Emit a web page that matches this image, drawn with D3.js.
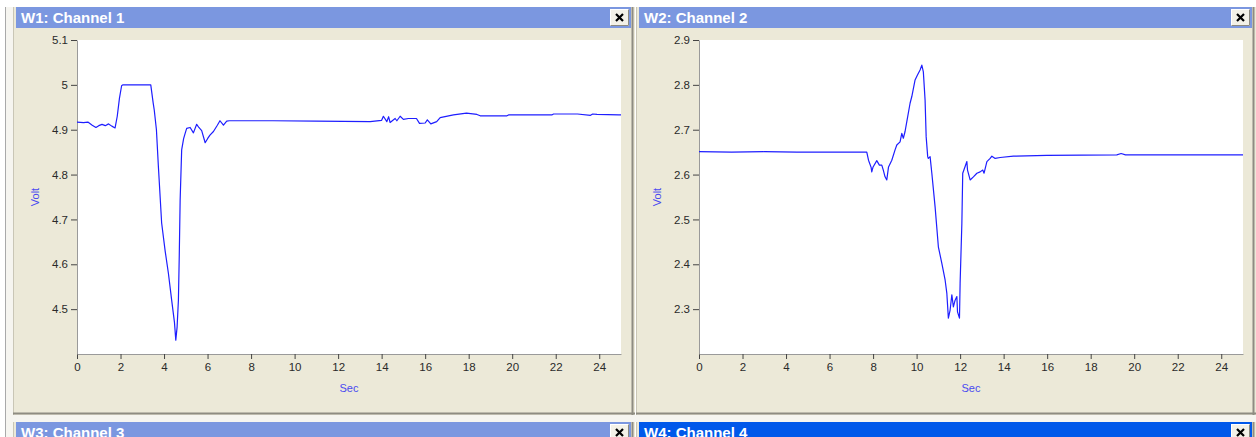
<!DOCTYPE html>
<html>
<head>
<meta charset="utf-8">
<script src="https://cdn.jsdelivr.net/npm/d3@7"></script>
<style>
  html, body { margin: 0; padding: 0; background: #ffffff; }
  svg { display: block; }
  .tick text { font-family: "Liberation Sans", Arial, sans-serif; font-size: 11.5px; fill: #2a2a2a; }
  .tick line { stroke: #444; }
  .domain { stroke: #9a9a9a; }
</style>
</head>
<body>
<svg id="chart" width="1256" height="437"></svg>
<script>
// Channel 1 recording: time (s) and voltage (V)
const ch1Time = [0, 0.3, 0.5, 0.7, 0.87, 1.0, 1.15, 1.3, 1.45, 1.6, 1.75, 1.85, 1.95, 2.05, 2.1, 3.39, 3.5, 3.55, 3.65, 3.74, 3.89, 4.05, 4.2, 4.35, 4.48, 4.54, 4.6, 4.66, 4.7, 4.74, 4.81, 4.9, 4.97, 5.04, 5.2, 5.35, 5.5, 5.6, 5.73, 5.89, 6.0, 6.11, 6.27, 6.45, 6.57, 6.73, 6.88, 7.0, 9.0, 11.0, 13.47, 14.0, 14.08, 14.24, 14.32, 14.39, 14.62, 14.7, 14.85, 15.0, 15.23, 15.6, 15.74, 16.0, 16.1, 16.26, 16.53, 16.69, 17.3, 17.9, 18.38, 18.53, 19.76, 19.83, 21.82, 21.9, 23.0, 23.6, 23.7, 23.9, 24.9, 25.0];
const ch1Volt = [4.917, 4.916, 4.917, 4.91, 4.905, 4.909, 4.912, 4.909, 4.913, 4.908, 4.904, 4.93, 4.97, 4.998, 5.0, 5.0, 4.96, 4.944, 4.9, 4.818, 4.692, 4.63, 4.58, 4.52, 4.47, 4.431, 4.46, 4.52, 4.62, 4.743, 4.855, 4.88, 4.892, 4.903, 4.905, 4.893, 4.912, 4.905, 4.898, 4.871, 4.88, 4.888, 4.896, 4.91, 4.92, 4.91, 4.919, 4.92, 4.92, 4.919, 4.918, 4.921, 4.93, 4.918, 4.929, 4.916, 4.925, 4.92, 4.93, 4.923, 4.925, 4.925, 4.914, 4.915, 4.922, 4.913, 4.918, 4.927, 4.933, 4.937, 4.934, 4.931, 4.931, 4.933, 4.933, 4.935, 4.935, 4.932, 4.935, 4.934, 4.933, 4.933];

// Channel 2 recording: time (s) and voltage (V)
const ch2Time = [0, 1.5, 3.0, 4.5, 6.0, 7.71, 7.79, 7.91, 7.94, 8.0, 8.17, 8.29, 8.4, 8.47, 8.55, 8.63, 8.71, 8.86, 9.01, 9.09, 9.24, 9.32, 9.39, 9.47, 9.55, 9.7, 9.78, 9.93, 10.04, 10.16, 10.24, 10.31, 10.39, 10.44, 10.51, 10.54, 10.62, 10.7, 10.85, 11.0, 11.16, 11.31, 11.39, 11.46, 11.54, 11.62, 11.69, 11.77, 11.85, 11.88, 11.97, 12.0, 12.08, 12.12, 12.23, 12.31, 12.34, 12.46, 12.61, 12.77, 12.92, 13.04, 13.1, 13.23, 13.38, 13.46, 13.61, 13.84, 14.45, 15.98, 19.2, 19.4, 19.6, 25.0];
const ch2Volt = [2.651, 2.65, 2.651, 2.65, 2.65, 2.65, 2.632, 2.616, 2.606, 2.617, 2.631, 2.621, 2.621, 2.61, 2.595, 2.588, 2.617, 2.632, 2.655, 2.666, 2.673, 2.692, 2.681, 2.696, 2.718, 2.759, 2.774, 2.811, 2.822, 2.833, 2.844, 2.829, 2.766, 2.684, 2.64, 2.636, 2.64, 2.603, 2.528, 2.439, 2.402, 2.365, 2.335, 2.28, 2.298, 2.332, 2.305, 2.32, 2.328, 2.294, 2.28, 2.358, 2.491, 2.603, 2.618, 2.629, 2.61, 2.588, 2.595, 2.603, 2.606, 2.61, 2.603, 2.629, 2.636, 2.641, 2.636, 2.638, 2.641, 2.643, 2.644, 2.647, 2.644, 2.644];

// Axis settings
const timeDomain = [0, 25];
const timeTicks = [0, 2, 4, 6, 8, 10, 12, 14, 16, 18, 20, 22, 24];
const ch1Domain = [4.4, 5.1];
const ch1Ticks = [4.5, 4.6, 4.7, 4.8, 4.9, 5.0, 5.1];
const ch2Domain = [2.2, 2.9];
const ch2Ticks = [2.3, 2.4, 2.5, 2.6, 2.7, 2.8, 2.9];

const titles = ["W1: Channel 1", "W2: Channel 2"];
const lowerTitles = ["W3: Channel 3", "W4: Channel 4"];

const svg = d3.select("#chart");
const BEIGE = "#ECE9D8";
const BAR_INACTIVE = "#7B97E0";
const BAR_ACTIVE = "#0058EA";
const titleFont = "'Liberation Sans', Arial, sans-serif";

// MDI background strip on the far left
svg.append("rect").attr("x", 0).attr("y", 0).attr("width", 1256).attr("height", 437).attr("fill", "#ffffff");
svg.append("line").attr("x1", 5.5).attr("x2", 5.5).attr("y1", 7).attr("y2", 437).attr("stroke", "#a9a9a9");
svg.append("rect").attr("x", 6).attr("y", 7).attr("width", 7).attr("height", 430).attr("fill", "#f6f5f0");

function closeButton(g, x, y) {
  const b = g.append("g").attr("transform", `translate(${x},${y})`);
  b.append("rect").attr("x", 0.5).attr("y", 0.5).attr("width", 18).attr("height", 16)
    .attr("fill", "#f3f1e8").attr("stroke", "#ffffff");
  b.append("line").attr("x1", 18.5).attr("x2", 18.5).attr("y1", 0.5).attr("y2", 16.5).attr("stroke", "#8c8a80");
  b.append("line").attr("x1", 0.5).attr("x2", 18.5).attr("y1", 16.5).attr("y2", 16.5).attr("stroke", "#8c8a80");
  b.append("path").attr("d", "M6,5 L13,12 M13,5 L6,12").attr("stroke", "#000").attr("stroke-width", 2.2);
}

function windowFrame(x0, width, title, active, top, bottom) {
  const g = svg.append("g");
  g.append("rect").attr("x", x0).attr("y", top).attr("width", width).attr("height", bottom - top).attr("fill", BEIGE);
  g.append("line").attr("x1", x0 + 0.5).attr("x2", x0 + 0.5).attr("y1", top).attr("y2", bottom).attr("stroke", "#c9c6b6");
  g.append("line").attr("x1", x0 + width - 2.5).attr("x2", x0 + width - 2.5).attr("y1", top).attr("y2", bottom).attr("stroke", "#8e8c82").attr("stroke-width", 2);
  g.append("line").attr("x1", x0).attr("x2", x0 + width).attr("y1", bottom - 1.5).attr("y2", bottom - 1.5).attr("stroke", "#8e8c82").attr("stroke-width", 2);
  g.append("rect").attr("x", x0 + 3).attr("y", top).attr("width", width - 7).attr("height", 21)
    .attr("fill", active ? BAR_ACTIVE : BAR_INACTIVE);
  g.append("text").attr("x", x0 + 8).attr("y", top + 16).attr("fill", "#ffffff")
    .attr("font-family", titleFont).attr("font-weight", "bold").attr("font-size", 15).text(title);
  closeButton(g, x0 + width - 25, top + 2);
  return g;
}

// Top row windows
windowFrame(13, 622, titles[0], false, 7, 415);
windowFrame(636, 620, titles[1], false, 7, 415);
// Lower row windows (partly visible)
windowFrame(13, 622, lowerTitles[0], false, 422, 470);
windowFrame(636, 620, lowerTitles[1], true, 422, 470);
// light gap between the rows
svg.append("rect").attr("x", 6).attr("y", 415).attr("width", 1250).attr("height", 7).attr("fill", "#f6f5f0");

const fmt = d => String(+d.toFixed(1));

function drawPanel(left, times, volts, yDomain, yTicks) {
  const x = d3.scaleLinear().domain(timeDomain).range([left, left + 544]);
  const y = d3.scaleLinear().domain(yDomain).range([354, 40]);
  const g = svg.append("g");

  g.append("rect").attr("x", left).attr("y", 40).attr("width", 544).attr("height", 314).attr("fill", "#ffffff");

  g.append("g").attr("transform", "translate(0,354)")
    .call(d3.axisBottom(x).tickValues(timeTicks).tickFormat(d3.format("d")).tickSize(5).tickSizeOuter(0).tickPadding(4))
    .call(a => a.select(".domain").attr("stroke", "#9a9a9a"));

  g.append("g").attr("transform", `translate(${left},0)`)
    .call(d3.axisLeft(y).tickValues(yTicks).tickFormat(fmt).tickSize(6).tickSizeOuter(0).tickPadding(3))
    .call(a => a.select(".domain").attr("stroke", "#9a9a9a"));

  const pts = times.map((t, i) => [t, volts[i]]);
  g.append("path").datum(pts)
    .attr("fill", "none").attr("stroke", "#1e1eff").attr("stroke-width", 1.2).attr("stroke-linejoin", "round")
    .attr("d", d3.line().x(d => x(d[0])).y(d => y(d[1])));

  g.append("text").attr("x", left + 272).attr("y", 392).attr("text-anchor", "middle")
    .attr("font-family", titleFont).attr("font-size", 11).attr("fill", "#4a4af0").text("Sec");
  g.append("text").attr("transform", `translate(${left - 38},197) rotate(-90)`).attr("text-anchor", "middle")
    .attr("font-family", titleFont).attr("font-size", 11).attr("fill", "#4a4af0").text("Volt");
}

drawPanel(77, ch1Time, ch1Volt, ch1Domain, ch1Ticks);
drawPanel(699, ch2Time, ch2Volt, ch2Domain, ch2Ticks);
</script>
</body>
</html>
